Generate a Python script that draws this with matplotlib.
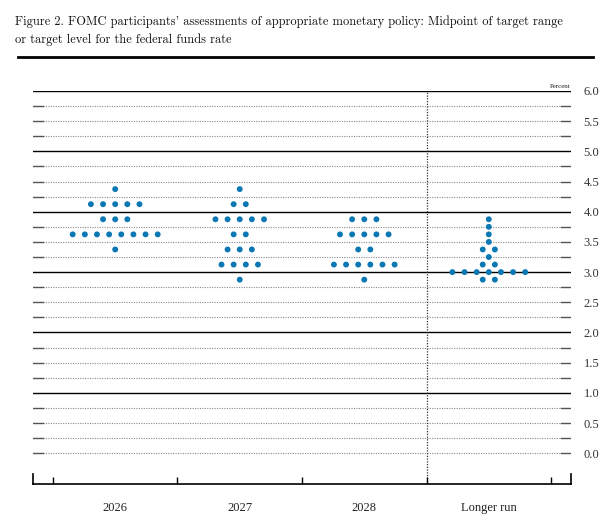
import matplotlib
matplotlib.use("Agg")
import matplotlib.pyplot as plt
from matplotlib.lines import Line2D

# columns of the dot plot
columns = ["2026", "2027", "2028", "Longer run"]

# midpoint levels and number of participants at each level
levels_2026 = [4.375, 4.125, 3.875, 3.625, 3.375]
counts_2026 = [1, 5, 3, 8, 1]

levels_2027 = [4.375, 4.125, 3.875, 3.625, 3.375, 3.125, 2.875]
counts_2027 = [1, 2, 5, 2, 3, 4, 1]

levels_2028 = [3.875, 3.625, 3.375, 3.125, 2.875]
counts_2028 = [3, 5, 2, 6, 1]

levels_lr = [3.875, 3.75, 3.625, 3.5, 3.375, 3.25, 3.125, 3.0, 2.875]
counts_lr = [1, 1, 1, 1, 2, 1, 2, 7, 2]

y_ticks = [0.0, 0.5, 1.0, 1.5, 2.0, 2.5, 3.0, 3.5, 4.0, 4.5, 5.0, 5.5, 6.0]

dot_color = "#0b78b4"
serif = ["Liberation Serif", "DejaVu Serif"]

fig = plt.figure(figsize=(6.05, 5.28), dpi=100)
ax = fig.add_axes([33 / 605, 44 / 528, 538 / 605, 393 / 528])
ax.set_xlim(0.34, 4.66)
ax.set_ylim(-0.51, 6.0)

# grid lines every quarter point: solid at whole numbers, dotted otherwise
stub = 10 / 538
for i in range(25):
    g = i * 0.25
    if g > 0 and g == int(g):
        ax.axhline(g, color="black", lw=1.0, zorder=1)
    else:
        ax.axhline(g, xmin=stub, xmax=1 - stub, color="#8a8a8a", lw=0.8,
                   ls=(0, (1, 1.2)), zorder=1)
        ax.axhline(g, xmin=0, xmax=stub, color="#555555", lw=1.0, zorder=1)
        ax.axhline(g, xmin=1 - stub, xmax=1, color="#555555", lw=1.0, zorder=1)

# separator before longer run
ax.axvline(3.5, color="#333333", lw=0.9, ls=(0, (1, 1.2)), zorder=1)

# dots
dx = 0.0975
all_levels = [levels_2026, levels_2027, levels_2028, levels_lr]
all_counts = [counts_2026, counts_2027, counts_2028, counts_lr]
for c, (lev, cnt) in enumerate(zip(all_levels, all_counts)):
    xs, ys = [], []
    for v, n in zip(lev, cnt):
        for k in range(n):
            xs.append(c + 1 + (k - (n - 1) / 2) * dx)
            ys.append(v)
    ax.scatter(xs, ys, s=18, color=dot_color, edgecolors="none", zorder=3)

# axes frame: only the bottom line with short end ticks
for s in ["top", "left", "right"]:
    ax.spines[s].set_visible(False)
ax.spines["bottom"].set_linewidth(1.2)
ax.add_line(Line2D([0.34, 0.34], [-0.51, -0.35], color="black", lw=1.2, clip_on=False))
ax.add_line(Line2D([4.66, 4.66], [-0.51, -0.35], color="black", lw=1.2, clip_on=False))

ax.set_xticks([0.5, 1.5, 2.5, 3.5, 4.5])
ax.set_xticklabels([])
ax.tick_params(axis="x", direction="in", length=5, width=1.0)
for c, name in enumerate(columns):
    ax.text(c + 1, -0.9, name, ha="center", va="center", fontsize=9,
            family=serif, color="#222222")

ax.yaxis.tick_right()
ax.set_yticks(y_ticks)
ax.set_yticklabels(["%.1f" % t for t in y_ticks], fontsize=9, family=serif,
                   color="#333333")
ax.tick_params(axis="y", length=0, pad=9)

ax.text(1.0, 1.004, "Percent", transform=ax.transAxes, ha="right", va="bottom",
        fontsize=5, family=serif, color="#222222")

# title and rule
title_font = ["cmr10", "DejaVu Serif"]
fig.text(15 / 605, 1 - 22 / 528,
         "Figure 2. FOMC participants' assessments of appropriate monetary policy: Midpoint of target range",
         fontsize=8.95, family=title_font, va="center", color="#111111")
fig.text(15 / 605, 1 - 40 / 528, "or target level for the federal funds rate",
         fontsize=8.95, family=title_font, va="center", color="#111111")
fig.add_artist(Line2D([18 / 605, 593 / 605], [1 - 57 / 528, 1 - 57 / 528],
                      color="black", lw=2.0, transform=fig.transFigure))

fig.savefig("out.png", dpi=100)
